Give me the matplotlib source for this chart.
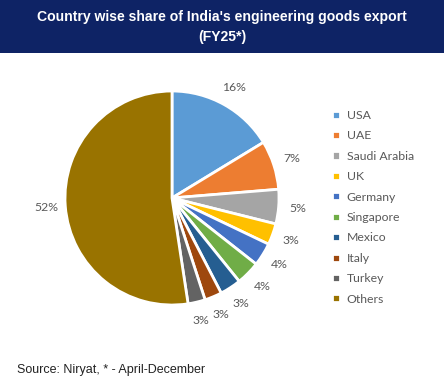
import matplotlib.pyplot as plt
from matplotlib.patches import Rectangle

countries = ["USA", "UAE", "Saudi Arabia", "UK", "Germany", "Singapore",
             "Mexico", "Italy", "Turkey", "Others"]
shares = [16.3, 7.4, 5.2, 3.2, 3.5, 3.6, 3.2, 2.6, 2.6, 52.4]
colors = ["#5B9BD5", "#ED7D31", "#A5A5A5", "#FFC000", "#4472C4", "#70AD47",
          "#255E91", "#9E480E", "#636363", "#997300"]

W, H = 444, 388
fig = plt.figure(figsize=(W / 100, H / 100), dpi=100)
fig.patch.set_facecolor("white")

# title band
band_h = 53 / H
fig.patches.append(Rectangle((0, 1 - band_h), 1, band_h, transform=fig.transFigure,
                             facecolor="#0E2365", edgecolor="none", zorder=0))
fig.text(0.5, 1 - 17 / H, "Country wise share of India's engineering goods export",
         color="white", fontsize=10.1, fontweight="bold", family="Liberation Sans",
         ha="center", va="center")
fig.text(0.5, 1 - 37 / H, "(FY25*)", color="white", fontsize=10.1, fontweight="bold",
         family="Liberation Sans", ha="center", va="center")

# pie
cx, cy, r = 172, 198, 107
side = 2.5 * r
ax = fig.add_axes([(cx - side / 2) / W, (H - cy - side / 2) / H, side / W, side / H])
wedges, texts, autotexts = ax.pie(
    shares, colors=colors, startangle=90, counterclock=False,
    autopct=lambda p: f"{p:.0f}%", pctdistance=1.18,
    wedgeprops=dict(edgecolor="white", linewidth=2),
    textprops=dict(color="#595959", fontsize=8.8, family="Lato"))
ax.set_xlim(-1.25, 1.25)
ax.set_ylim(-1.25, 1.25)
ax.set_aspect("equal")

leg = fig.legend(wedges, countries, loc="upper left",
                 bbox_to_anchor=(332 / W, 1 - 110 / H), frameon=False,
                 prop=dict(family="Lato", size=8.8), labelcolor="#595959",
                 handlelength=0.65, handleheight=0.65, handletextpad=0.55,
                 labelspacing=0.77, borderaxespad=0, borderpad=0)

fig.text(17 / W, 1 - 370 / H, "Source: Niryat, * - April-December", fontsize=9,
         family="Liberation Sans", color="#222222", ha="left", va="center")

fig.savefig("out.png", dpi=100)
